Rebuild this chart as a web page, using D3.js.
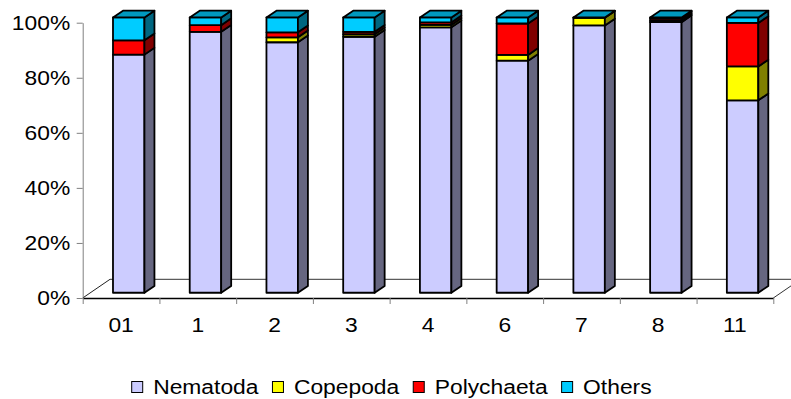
<!DOCTYPE html>
<html>
<head>
<meta charset="utf-8">
<script src="https://cdn.jsdelivr.net/npm/d3@7"></script>
<style>
  html, body { margin: 0; padding: 0; background: #fff; }
  svg { display: block; font-family: "Liberation Sans", Arial, sans-serif; }
</style>
</head>
<body>
<svg id="chart" width="791" height="399"></svg>
<script>
// Station labels and the percentage share of each taxon per station
const categories = ["01", "1", "2", "3", "4", "6", "7", "8", "11"];
const nematoda   = [86.5, 94.8, 91.0, 93.0, 96.4, 84.3, 97.1, 98.3, 69.9];
const copepoda   = [0.0, 0.0, 1.8, 0.9, 0.9, 2.1, 2.8, 0.5, 12.3];
const polychaeta = [5.2, 2.4, 1.8, 0.9, 0.9, 11.4, 0.0, 0.8, 15.8];
const others     = [8.3, 2.8, 5.4, 5.2, 1.8, 2.2, 0.1, 0.4, 2.0];
const seriesNames = ["Nematoda", "Copepoda", "Polychaeta", "Others"];
const yTicks = [0, 20, 40, 60, 80, 100];

const colors = {
  Nematoda:   "#CCCCFF",
  Copepoda:   "#FFFF00",
  Polychaeta: "#FF0000",
  Others:     "#00CCFF"
};

const rows = categories.map((c, i) => ({
  cat: c,
  Nematoda: nematoda[i],
  Copepoda: copepoda[i],
  Polychaeta: polychaeta[i],
  Others: others[i]
}));

const svg = d3.select("#chart");
const plotL = 82.7, plotR = 773.3, plotB = 298, plotT = 22.7;
const depth = [27.3, -18.7];          // floor depth vector
const barOff = [7.65, -5.24];          // bar front plane offset
const barDepth = [10, -6.8];           // bar thickness in depth
const textScale = 1.17;
const fontSize = 19.5;

const x = d3.scaleBand().domain(categories).range([plotL, plotR]).padding(0);
const xEdge = d3.scaleLinear().domain([0, categories.length]).range([plotL, plotR]);
const y = d3.scaleLinear().domain([0, 100]).range([plotB, plotT]);
const barW = x.bandwidth() * 0.41;

function shade(hex, k) {
  const c = d3.rgb(hex);
  return d3.rgb(c.r * k, c.g * k, c.b * k).formatHex();
}

// Floor outline
const floor = svg.append("g").attr("fill", "none");
floor.append("line")
  .attr("x1", plotL + depth[0]).attr("y1", plotB + depth[1])
  .attr("x2", plotR + depth[0]).attr("y2", plotB + depth[1])
  .attr("stroke", "#333").attr("stroke-width", 1);
floor.append("line")
  .attr("x1", plotL).attr("y1", plotB)
  .attr("x2", plotL + depth[0]).attr("y2", plotB + depth[1])
  .attr("stroke", "#222").attr("stroke-width", 1);
floor.append("line")
  .attr("x1", plotR).attr("y1", plotB)
  .attr("x2", plotR + depth[0]).attr("y2", plotB + depth[1])
  .attr("stroke", "#333").attr("stroke-width", 1);

// Stacked 3D columns
const stack = d3.stack().keys(seriesNames)(rows);
const bars = svg.append("g")
  .attr("stroke", "#000").attr("stroke-width", 1.8).attr("stroke-linejoin", "round");

categories.forEach((cat, i) => {
  const x0 = x(cat) + x.bandwidth() / 2 - barW / 2 + barOff[0];
  const x1 = x0 + barW;
  let topLayer = null;
  stack.forEach(layer => {
    const [v0, v1] = layer[i];
    if (v1 - v0 <= 0) return;
    topLayer = layer;
    const yb = y(v0) + barOff[1];
    const yt = y(v1) + barOff[1];
    const col = colors[layer.key];
    bars.append("rect")
      .attr("x", x0).attr("y", yt)
      .attr("width", barW).attr("height", yb - yt)
      .attr("fill", col);
    bars.append("path")
      .attr("d", `M${x1},${yb}L${x1 + barDepth[0]},${yb + barDepth[1]}L${x1 + barDepth[0]},${yt + barDepth[1]}L${x1},${yt}Z`)
      .attr("fill", shade(col, 0.5));
  });
  if (topLayer) {
    const yt = y(topLayer[i][1]) + barOff[1];
    bars.append("path")
      .attr("d", `M${x0},${yt}L${x1},${yt}L${x1 + barDepth[0]},${yt + barDepth[1]}L${x0 + barDepth[0]},${yt + barDepth[1]}Z`)
      .attr("fill", shade(colors[topLayer.key], 0.75));
  }
});

// Value axis
const yAxis = svg.append("g")
  .attr("transform", `translate(${plotL},0)`)
  .call(d3.axisLeft(y).tickValues(yTicks).tickFormat(d => d + "%").tickSize(6).tickSizeOuter(0));
yAxis.select(".domain").attr("stroke", "#808080");
yAxis.selectAll(".tick line").attr("stroke", "#808080");
yAxis.selectAll(".tick text")
  .attr("x", 0).attr("dy", "0.35em")
  .attr("transform", `translate(-12.5,0) scale(${textScale},1)`)
  .attr("font-size", fontSize).attr("fill", "#000")
  .attr("font-family", "Liberation Sans, Arial, sans-serif");

// Category axis: boundary ticks and centred labels
const xTicks = svg.append("g")
  .attr("transform", `translate(0,${plotB})`)
  .call(d3.axisBottom(xEdge).tickValues(d3.range(categories.length + 1)).tickFormat("").tickSize(6).tickSizeOuter(0));
xTicks.select(".domain").attr("stroke", "#000").attr("stroke-width", 1.3);
xTicks.selectAll(".tick line").attr("stroke", "#808080");

const xLabels = svg.append("g")
  .attr("transform", `translate(0,${plotB})`)
  .call(d3.axisBottom(x).tickSize(0));
xLabels.select(".domain").remove();
xLabels.selectAll(".tick text")
  .attr("y", 0).attr("dy", 0)
  .attr("transform", `translate(0,33.5) scale(${textScale},1)`)
  .attr("font-size", fontSize).attr("fill", "#000")
  .attr("font-family", "Liberation Sans, Arial, sans-serif");

// Legend
const legend = svg.append("g");
let lx = 131.7;
seriesNames.forEach(name => {
  legend.append("rect")
    .attr("x", lx).attr("y", 381.5).attr("width", 11).attr("height", 11)
    .attr("fill", colors[name]).attr("stroke", "#000").attr("stroke-width", 1);
  const t = legend.append("text")
    .attr("transform", `translate(${lx + 21.5},393.8) scale(${textScale},1)`)
    .attr("font-size", fontSize).attr("fill", "#000")
    .text(name);
  lx += 21.5 + t.node().getComputedTextLength() * textScale + 14;
});
</script>
</body>
</html>
